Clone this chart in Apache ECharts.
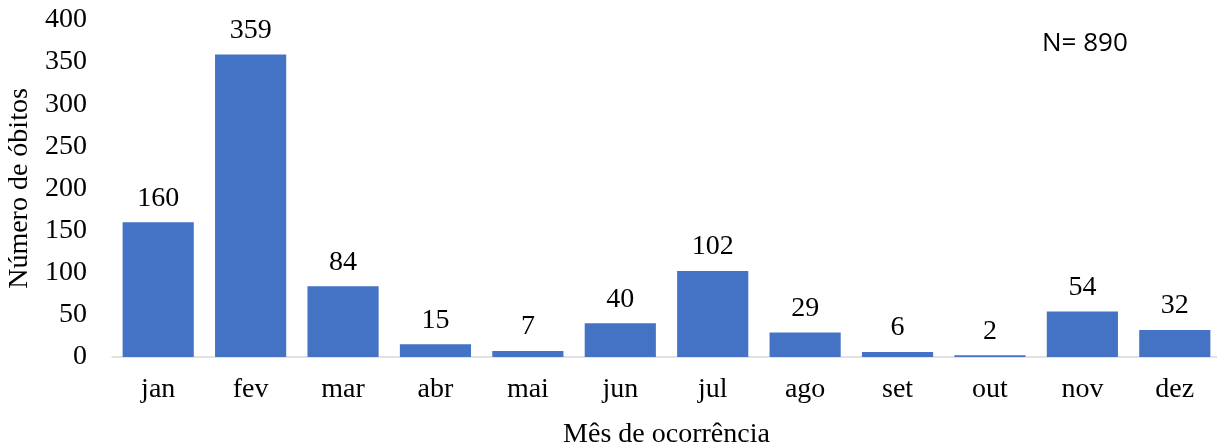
<!DOCTYPE html>
<html>
<head>
<meta charset="utf-8">
<script src="https://cdn.jsdelivr.net/npm/echarts@6/dist/echarts.min.js"></script>
<style>
  html, body { margin: 0; padding: 0; background: #fff; }
  #chart { width: 1217px; height: 446px; }
</style>
</head>
<body>
<div id="chart"></div>
<script>
// Óbitos por mês de ocorrência
const months = ['jan', 'fev', 'mar', 'abr', 'mai', 'jun', 'jul', 'ago', 'set', 'out', 'nov', 'dez'];
const deaths = [160, 359, 84, 15, 7, 40, 102, 29, 6, 2, 54, 32];
const totalLabel = 'N= 890';

const serif = '"Liberation Serif", "Times New Roman", serif';
const chart = echarts.init(document.getElementById('chart'), null, { renderer: 'canvas' });

chart.setOption({
  animation: false,
  backgroundColor: '#ffffff',
  grid: { left: 112, top: 20, width: 1109, bottom: 89, containLabel: false, outerBoundsMode: 'none' },
  graphic: [{
    type: 'text',
    left: 1042,
    top: 31,
    style: { text: totalLabel, font: '26px "Open Sans", "Liberation Sans", sans-serif', fill: '#000' }
  }],
  xAxis: {
    type: 'category',
    data: months,
    axisLine: { lineStyle: { color: '#d9d9d9', width: 1.5 } },
    axisTick: { show: false },
    axisLabel: { color: '#000', fontFamily: serif, fontSize: 28, margin: 19 },
    name: 'Mês de ocorrência',
    nameLocation: 'middle',
    nameGap: 64,
    nameTextStyle: { color: '#000', fontFamily: serif, fontSize: 28 }
  },
  yAxis: {
    type: 'value',
    min: 0,
    max: 400,
    interval: 50,
    splitLine: { show: false },
    axisLine: { show: false },
    axisTick: { show: false },
    axisLabel: { color: '#000', fontFamily: serif, fontSize: 28, margin: 25 },
    name: 'Número de óbitos',
    nameLocation: 'middle',
    nameGap: 71,
    nameTextStyle: { color: '#000', fontFamily: serif, fontSize: 28 }
  },
  series: [{
    type: 'bar',
    data: deaths,
    barCategoryGap: '23%',
    itemStyle: { color: '#4472c4' },
    label: {
      show: true,
      position: 'top',
      distance: 10,
      color: '#000',
      fontFamily: serif,
      fontSize: 28
    }
  }]
});
</script>
</body>
</html>
